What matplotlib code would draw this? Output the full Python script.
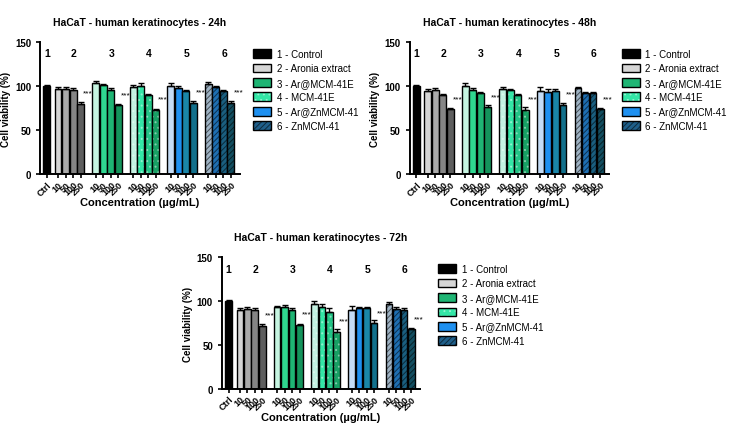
import matplotlib
matplotlib.use("Agg")
from matplotlib import pyplot as plt
from matplotlib.patches import Patch
from matplotlib.colors import to_rgb
import numpy as np

plt.rcParams['font.family'] = ['Liberation Sans', 'DejaVu Sans']
plt.rcParams['hatch.linewidth'] = 0.7

# data (cell viability %)
groups = ['1 - Control', '2 - Aronia extract', '3 - Ar@MCM-41E', '4 - MCM-41E',
          '5 - Ar@ZnMCM-41', '6 - ZnMCM-41']
conc_labels = ['10', '50', '100', '250']
ctrl_v = 100

v24 = [[97, 97, 96, 80], [104, 101, 96, 78], [99, 100, 90, 73], [100, 98, 94, 81], [102, 99, 94, 81]]
e24 = [[1.5, 1.5, 2, 2], [1.5, 1.5, 1.5, 1.5], [2, 3, 1.5, 1.5], [4, 2, 1.5, 2], [2.5, 1.5, 2, 1.5]]
v48 = [[94, 95, 90, 74], [100, 96, 92, 76], [97, 96, 90, 73], [94, 93, 94, 79], [98, 92, 92, 74]]
e48 = [[3, 3, 1.5, 1.5], [3, 2, 1.5, 2.5], [2, 1, 1.5, 3], [5, 4, 3, 1.5], [1, 1.5, 1.5, 1.5]]
v72 = [[90, 91, 90, 72], [93, 93, 90, 73], [97, 93, 88, 65], [90, 92, 92, 75], [97, 91, 90, 68]]
e72 = [[1.5, 2, 1.5, 1.5], [1.5, 2, 2.5, 1], [3, 4, 3.5, 3], [4, 1.5, 1.5, 3], [1.5, 2.5, 2, 1.5]]

colors = [
    ['#d6d6d6', '#aaaaaa', '#858585', '#5e5e5e'],
    ['#c6f5e1', '#2fd690', '#1fb574', '#14945c'],
    ['#c3f2e2', '#33e6a6', '#22c486', '#17a064'],
    ['#c4dcf6', '#1e90f0', '#1a86a8', '#12708c'],
    ['#9fb3c4', '#1f6fb2', '#1a5f80', '#134e60'],
]
hatches = [None, None, '...', None, '//////']
legend_cols = ['black', '#d6d6d6', '#1fb574', '#33e6a6', '#1e90f0', '#1f5f8a']


def hatch_col(c, g):
    r = np.array(to_rgb(c))
    if g == 2:
        return tuple(r + (1 - r) * 0.45)
    return tuple(r * 0.45)


def draw(ax, vals, errs, title):
    ax.bar(0, ctrl_v, width=0.9, color='black', edgecolor='black', lw=1)
    ax.errorbar(0, ctrl_v, yerr=[[0], [1]], fmt='none', ecolor='black', capsize=2, lw=1)
    ticks = [0]
    labels = ['Ctrl']
    ax.text(0, 137, '1', ha='center', va='center', fontsize=7.5, fontweight='bold')
    for g in range(5):
        xs = 1.5 + 5 * g + np.arange(4)
        for j in range(4):
            if hatches[g]:
                ax.bar(xs[j], vals[g][j], width=0.9, color=colors[g][j],
                       edgecolor=hatch_col(colors[g][j], g), hatch=hatches[g], lw=0)
                ax.bar(xs[j], vals[g][j], width=0.9, fill=False, edgecolor='black', lw=1)
            else:
                ax.bar(xs[j], vals[g][j], width=0.9, color=colors[g][j],
                       edgecolor='black', lw=1)
        ax.errorbar(xs, vals[g], yerr=[[0] * 4, errs[g]], fmt='none', ecolor='black',
                    capsize=2, lw=1, capthick=1)
        ax.text(xs[3] + 1.0, vals[g][3] + 12, '***', ha='center', va='center', fontsize=6)
        ax.text(xs.mean() + 0.6, 137, str(g + 2), ha='center', va='center',
                fontsize=7.5, fontweight='bold')
        ticks += list(xs)
        labels += conc_labels
    ax.set_xlim(-0.9, 25.7)
    ax.set_ylim(0, 150)
    ax.set_yticks([0, 50, 100, 150])
    ax.set_xticks(ticks)
    ax.set_xticklabels(labels, rotation=45, ha='right', rotation_mode='anchor',
                       fontsize=6.5, fontweight='bold')
    for t in ax.get_yticklabels():
        t.set_fontweight('bold')
    ax.tick_params(axis='y', labelsize=7, width=1.2, length=3)
    ax.tick_params(axis='x', width=1.2, length=3, pad=1)
    for s in ['top', 'right']:
        ax.spines[s].set_visible(False)
    for s in ['left', 'bottom']:
        ax.spines[s].set_linewidth(1.4)
    ax.set_ylabel('Cell viability (%)', fontsize=7, fontweight='bold', labelpad=3)
    ax.set_xlabel('Concentration (\u00b5g/mL)', fontsize=8, fontweight='bold', labelpad=0)
    ax.set_title(title, fontsize=7.5, fontweight='bold', pad=12)


def legend(fig, x, y):
    handles = []
    for i, lab in enumerate(groups):
        h = hatches[i - 1] if i > 0 else None
        if h:
            fill = Patch(facecolor=legend_cols[i], edgecolor=hatch_col(legend_cols[i], i - 1),
                         hatch=h, lw=0)
            frame = Patch(facecolor='none', edgecolor='black', lw=1)
            handles.append((fill, frame))
        else:
            handles.append(Patch(facecolor=legend_cols[i], edgecolor='black', lw=1))
    fig.legend(handles=handles, labels=groups, loc='upper left', bbox_to_anchor=(x, y),
               frameon=False, fontsize=7, handlelength=1.8, handleheight=1.0,
               labelspacing=0.45, handletextpad=0.6, borderaxespad=0)


fig = plt.figure(figsize=(7.29, 4.39), dpi=100)
ax1 = fig.add_axes([0.055, 0.601, 0.274, 0.301])
ax2 = fig.add_axes([0.562, 0.601, 0.274, 0.301])
ax3 = fig.add_axes([0.3045, 0.112, 0.272, 0.300])

draw(ax1, v24, e24, 'HaCaT - human keratinocytes - 24h')
draw(ax2, v48, e48, 'HaCaT - human keratinocytes - 48h')
draw(ax3, v72, e72, 'HaCaT - human keratinocytes - 72h')

legend(fig, 0.342, 0.895)
legend(fig, 0.848, 0.895)
legend(fig, 0.596, 0.405)

fig.savefig('out.png', dpi=100)
